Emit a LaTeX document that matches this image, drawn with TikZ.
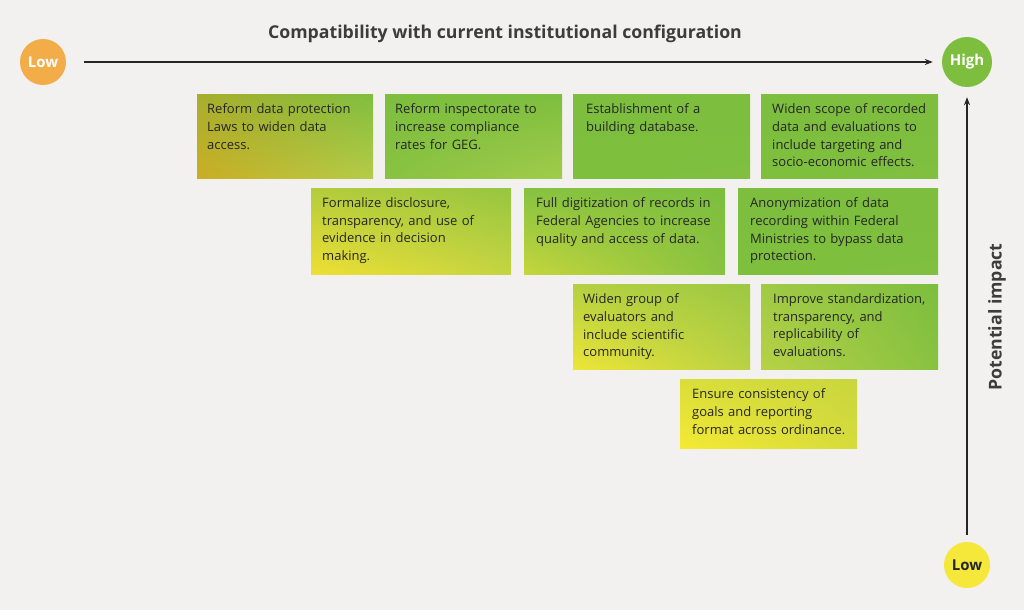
\documentclass[tikz,border=0pt]{standalone}
\usepackage{fontspec}
\setmainfont{Open Sans}
\usetikzlibrary{arrows.meta,shadings}
\definecolor{bg}{HTML}{F2F1EF}
\definecolor{txt}{HTML}{262626}
\definecolor{grn}{HTML}{7DBE3E}
\definecolor{org}{HTML}{F2AC48}
\definecolor{yel}{HTML}{F5E83A}
% card corner colours: ul ur ll lr
\definecolor{aUL}{HTML}{A8AE2E}\definecolor{aUR}{HTML}{80BE3E}\definecolor{aLL}{HTML}{C9AE24}\definecolor{aLR}{HTML}{B5CC48}
\definecolor{bUL}{HTML}{7DBE3E}\definecolor{bUR}{HTML}{7DBE3E}\definecolor{bLL}{HTML}{88C241}\definecolor{bLR}{HTML}{A2CB4A}
\definecolor{gUL}{HTML}{7DBE3E}\definecolor{gUR}{HTML}{7DBE3E}\definecolor{gLL}{HTML}{7FBF3E}\definecolor{gLR}{HTML}{80BF3F}
\definecolor{eUL}{HTML}{B4CC3C}\definecolor{eUR}{HTML}{96C640}\definecolor{eLL}{HTML}{EEDF33}\definecolor{eLR}{HTML}{C4D442}
\definecolor{fUL}{HTML}{86C241}\definecolor{fUR}{HTML}{7DBE3E}\definecolor{fLL}{HTML}{C5D63C}\definecolor{fLR}{HTML}{88C241}
\definecolor{hUL}{HTML}{B4D040}\definecolor{hUR}{HTML}{9CC843}\definecolor{hLL}{HTML}{EEE537}\definecolor{hLR}{HTML}{B9D144}
\definecolor{iUL}{HTML}{A0CA45}\definecolor{iUR}{HTML}{7DBE3E}\definecolor{iLL}{HTML}{B8D245}\definecolor{iLR}{HTML}{88C241}
\definecolor{jUL}{HTML}{D9DE3A}\definecolor{jUR}{HTML}{C8D63E}\definecolor{jLL}{HTML}{F5E934}\definecolor{jLR}{HTML}{D5DB3B}
\tikzset{
  x=1pt, y=-1pt,
  card/.style 2 args={anchor=north west, inner sep=0pt, outer sep=0pt, draw=none,
     minimum width=#1, minimum height=#2},
  cardtext/.style={anchor=north west, inner sep=0pt, text width=#1, align=left, text=txt,
     font=\fontsize{13}{17.7}\selectfont},
  dot/.style={circle, inner sep=0pt, minimum size=#1, font=\fontsize{15}{16}\selectfont\bfseries},
  axis/.style={line width=1.6pt, draw=txt, -{Stealth[length=8pt,width=6pt]}},
  heading/.style={font=\fontsize{17.7}{20}\selectfont\bfseries, text=txt!90!white, inner sep=0pt},
}
% \mycard{name}{x}{y}{w}{h}{colour prefix}{text inset x}{text}
\newcommand{\mycard}[8]{%
  \node[card={#4pt}{#5pt}, upper left=#6UL, upper right=#6UR, lower left=#6LL, lower right=#6LR]
    (#1) at (#2,#3) {};
  \node[cardtext=#4pt-#7pt-4pt] (#1t) at ([xshift=#7pt, yshift=-9.5pt]#1.north west) {#8};
}
\begin{document}
\begin{tikzpicture}
\fill[bg] (0,0) rectangle (1024,610);
\useasboundingbox (0,0) rectangle (1024,610);

% axes
\node[dot=46pt, fill=org, text=white] (lowx) at (43,62) {Low};
\node[dot=50pt, fill=grn, text=white] (highx) at (967,62) {High};
\node[dot=46pt, fill=yel, text=txt] (lowy) at (967,565) {Low};
\draw[axis, shorten <=18pt, shorten >=9pt] (lowx) -- (highx);
\draw[axis, shorten <=7pt, shorten >=10pt] (lowy) -- (highx);
\node[heading] (title) at (505,34) {Compatibility with current institutional configuration};
\node[heading, rotate=90] (ylab) at (997,317) {Potential impact};

% row 1
\mycard{b1}{197}{94}{176}{84}{a}{10}{Reform data protection\\Laws to widen data\\access.}
\mycard{b2}{385}{94}{177}{84}{b}{10}{Reform inspectorate to\\increase compliance\\rates for GEG.}
\mycard{b3}{573}{94}{177}{84}{g}{13}{Establishment of a\\building database.}
\mycard{b4}{761}{94}{177}{84}{g}{11}{Widen scope of recorded\\data and evaluations to\\include targeting and\\socio-economic effects.}
% row 2
\mycard{b5}{311}{188}{200}{86}{e}{11}{Formalize disclosure,\\transparency, and use of\\evidence in decision\\making.}
\mycard{b6}{524}{188}{201}{86}{f}{12}{Full digitization of records in\\Federal Agencies to increase\\quality and access of data.}
\mycard{b7}{738}{188}{200}{86}{g}{12}{Anonymization of data\\recording within Federal\\Ministries to bypass data\\protection.}
% row 3
\mycard{b8}{573}{284}{177}{85}{h}{10}{Widen group of\\evaluators and\\include scientific\\community.}
\mycard{b9}{761}{284}{177}{85}{i}{12}{Improve standardization,\\transparency, and\\replicability of\\evaluations.}
% row 4
\mycard{b10}{680}{379}{177}{69}{j}{12}{Ensure consistency of\\goals and reporting\\format across ordinance.}
\end{tikzpicture}
\end{document}
